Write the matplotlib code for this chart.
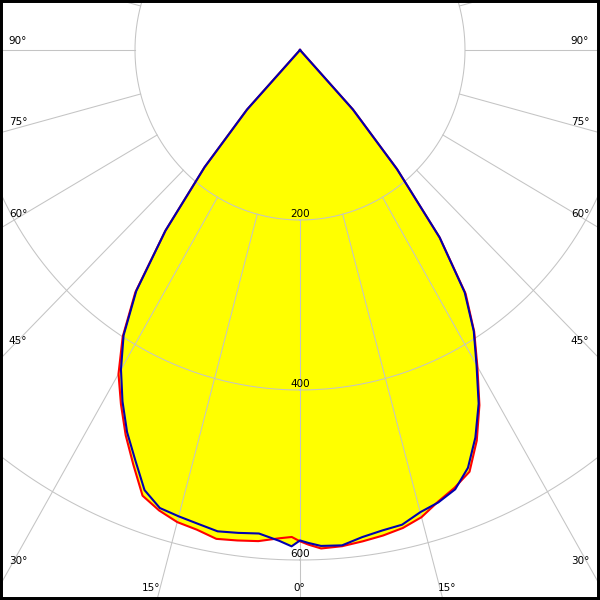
import numpy as np
import matplotlib
matplotlib.use('Agg')
import matplotlib.pyplot as plt

# gamma angles in degrees (negative = left half of the plane)
gamma = [-45, -42.5, -40, -37.5, -35, -32.5, -30, -27.5, -25, -22.5, -20,
         -17.5, -15, -12.5, -10, -7.5, -5, -2.5, -1, 0, 1, 2.5, 5, 7.5, 10,
         12.5, 15, 17.5, 20, 22.5, 25, 27.5, 30, 32.5, 35, 37.5, 40, 42.5, 45]

# luminous intensity (cd) - red plane
red_cd = [0, 95, 180, 268, 348, 400, 440, 470, 500, 528, 558,
          568, 575, 578, 584, 582, 580, 575, 573, 578, 582, 587, 586, 583, 580,
          576, 569, 557, 548, 537, 507, 471, 430, 393, 350, 278, 183, 95, 0]

# luminous intensity (cd) - blue plane
blue_cd = [0, 95, 180, 268, 346, 398, 434, 466, 496, 522, 551,
           565, 568, 571, 575, 573, 571, 578, 584, 577, 580, 584, 585, 578, 574,
           572, 563, 558, 550, 532, 503, 469, 428, 392, 348, 278, 183, 95, 0]

rings = [200, 400, 600]
ring_labels = ['200', '400', '600']
spokes = np.arange(0, 360, 15)

# angle labels: text, pixel x, pixel y
angle_labels = [('90°', 18, 41), ('75°', 18, 122), ('60°', 18, 214),
                ('45°', 18, 341), ('30°', 18, 561),
                ('90°', 580, 41), ('75°', 580, 122), ('60°', 580, 214),
                ('45°', 580, 341), ('30°', 580, 561),
                ('15°', 151, 588), ('0°', 299, 588), ('15°', 447, 588)]


def to_xy(ang, val):
    a = np.radians(np.asarray(ang, dtype=float))
    v = np.asarray(val, dtype=float)
    return v * np.sin(a), -v * np.cos(a)


fig = plt.figure(figsize=(6, 6), dpi=100)
ax = fig.add_axes([0, 0, 1, 1])
ax.set_xlim(-363.64, 363.64)
ax.set_ylim(-647.06, 58.82)
ax.set_xticks([])
ax.set_yticks([])
for s in ax.spines.values():
    s.set_linewidth(4.3)
    s.set_color('black')

# filled shapes
xr, yr = to_xy(gamma, red_cd)
xb, yb = to_xy(gamma, blue_cd)
ax.fill(xr, yr, color='#ffff00', lw=0, zorder=1)
ax.fill(xb, yb, color='#ffff00', lw=0, zorder=1)

# grid
grid_col = '#c4c4c4'
t = np.linspace(0, 360, 721)
for r in rings:
    cx, cy = to_xy(t, np.full_like(t, r))
    ax.plot(cx, cy, color=grid_col, lw=0.75, zorder=2)
for s in spokes:
    sx, sy = to_xy([s, s], [200, 1000])
    ax.plot(sx, sy, color=grid_col, lw=0.75, zorder=2)

for r, lbl in zip(rings, ring_labels):
    ax.annotate(lbl, xy=(0, -r), xytext=(0, 0.5), textcoords='offset points',
                ha='center', va='bottom', fontsize=7.5, color='black', zorder=3)

for txt, px, py in angle_labels:
    ax.text(px / 600, 1 - py / 600, txt, transform=ax.transAxes,
            ha='center', va='center', fontsize=7.5, color='black', zorder=3)

# curves
ax.plot(xr, yr, color='#ff0000', lw=1.5, zorder=4)
ax.plot(xb, yb, color='#0000b0', lw=1.5, zorder=5)

fig.savefig('out.png', dpi=100)
